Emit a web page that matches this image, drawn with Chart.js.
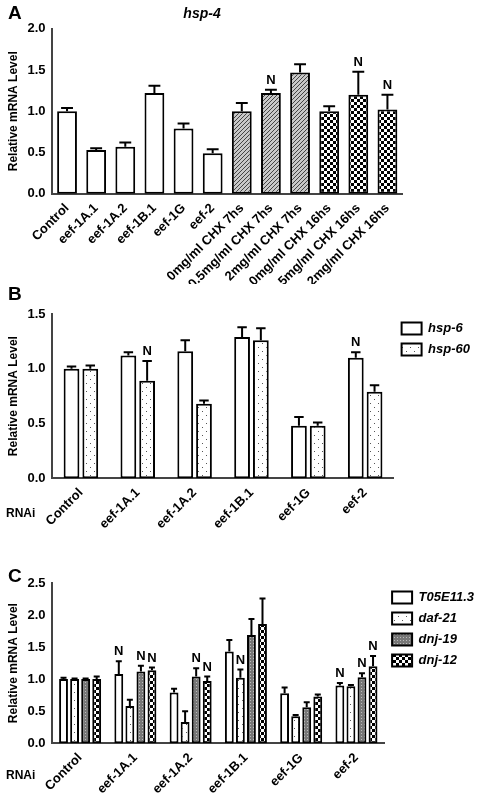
<!DOCTYPE html>
<html>
<head>
<meta charset="utf-8">
<script src="https://cdn.jsdelivr.net/npm/chart.js@4"></script>
<style>
  body { margin: 0; background: #fff; font-family: "Liberation Sans", Arial, sans-serif; }
  .box { position: absolute; left: 0; width: 486px; }
  .letter { position: absolute; font-weight: bold; font-size: 19px; }
  .rnai { position: absolute; font-weight: bold; font-size: 12px; }
</style>
</head>
<body>
<div style="position:absolute;left:0;top:0;width:486px;height:284px;overflow:hidden">
  <div class="box" style="top:0;height:300px"><canvas id="grafA"></canvas></div>
</div>
<div class="box" style="top:290px;height:245px"><canvas id="grafB"></canvas></div>
<div class="box" style="top:555px;height:245px"><canvas id="grafC"></canvas></div>
<div class="letter" style="left:8px;top:2px">A</div>
<div class="letter" style="left:8px;top:283px">B</div>
<div class="letter" style="left:8px;top:565px">C</div>
<div class="rnai" style="left:6px;top:506px">RNAi</div>
<div class="rnai" style="left:6px;top:768px">RNAi</div>
<script>
// Painel A: hsp-4
const rotulosA = ['Control', 'eef-1A.1', 'eef-1A.2', 'eef-1B.1', 'eef-1G', 'eef-2',
  '0mg/ml CHX 7hs', '0.5mg/ml CHX 7hs', '2mg/ml CHX 7hs',
  '0mg/ml CHX 16hs', '0.5mg/ml CHX 16hs', '2mg/ml CHX 16hs'];
const valoresA = [1.0, 0.53, 0.57, 1.22, 0.79, 0.49, 1.0, 1.22, 1.47, 1.0, 1.2, 1.02];
const errosA = [0.04, 0.02, 0.05, 0.09, 0.06, 0.05, 0.1, 0.04, 0.1, 0.06, 0.28, 0.18];
const marcasA = [0, 0, 0, 0, 0, 0, 0, 1, 0, 0, 1, 1];

// Painéis B e C: RNAi
const rotulosRNAi = ['Control', 'eef-1A.1', 'eef-1A.2', 'eef-1B.1', 'eef-1G', 'eef-2'];
const hsp6 = [1.0, 1.12, 1.16, 1.29, 0.48, 1.1];
const hsp6Erro = [0.02, 0.03, 0.1, 0.09, 0.08, 0.05];
const hsp6N = [0, 0, 0, 0, 0, 1];
const hsp60 = [1.0, 0.89, 0.68, 1.26, 0.48, 0.79];
const hsp60Erro = [0.03, 0.18, 0.03, 0.11, 0.03, 0.06];
const hsp60N = [0, 1, 0, 0, 0, 0];

const t05 = [1.0, 1.08, 0.79, 1.43, 0.78, 0.9];
const t05Erro = [0.02, 0.2, 0.06, 0.18, 0.09, 0.04];
const t05N = [0, 1, 0, 0, 0, 1];
const daf21 = [1.0, 0.58, 0.33, 1.02, 0.42, 0.89];
const daf21Erro = [0.01, 0.1, 0.17, 0.13, 0.02, 0.02];
const daf21N = [0, 0, 0, 1, 0, 0];
const dnj19 = [1.0, 1.12, 1.04, 1.69, 0.56, 1.03];
const dnj19Erro = [0.01, 0.09, 0.13, 0.25, 0.08, 0.06];
const dnj19N = [0, 1, 1, 0, 0, 1];
const dnj12 = [1.0, 1.14, 0.97, 1.86, 0.73, 1.2];
const dnj12Erro = [0.04, 0.04, 0.07, 0.4, 0.03, 0.16];
const dnj12N = [0, 1, 1, 0, 0, 1];

// Padrões de preenchimento
function padrao(tam, desenha) {
  const c = document.createElement('canvas');
  c.width = tam; c.height = tam;
  const g = c.getContext('2d');
  g.fillStyle = '#fff'; g.fillRect(0, 0, tam, tam);
  desenha(g);
  return document.createElement('canvas').getContext('2d').createPattern(c, 'repeat');
}
const listrado = padrao(4, g => {
  g.fillStyle = '#c8c8c8'; g.fillRect(0, 0, 4, 4);
  g.strokeStyle = '#444'; g.lineWidth = 1;
  g.beginPath(); g.moveTo(0, 4); g.lineTo(4, 0); g.stroke();
});
const xadrez = padrao(6, g => {
  g.fillStyle = '#000'; g.fillRect(0, 0, 3, 3); g.fillRect(3, 3, 3, 3);
});
const pontilhado = padrao(8, g => {
  g.fillStyle = '#555'; g.fillRect(2, 1, 1, 1); g.fillRect(6, 5, 1, 1);
});
const grade = padrao(3, g => {
  g.fillStyle = '#777'; g.fillRect(0, 0, 3, 3);
  g.fillStyle = '#bbb'; g.fillRect(1, 1, 1, 1);
});

// Plugin: barras de erro e marcas "N"
const erroPlugin = {
  id: 'erros',
  afterDatasetsDraw(chart) {
    const ctx = chart.ctx, y = chart.scales.y;
    chart.data.datasets.forEach((ds, i) => {
      const meta = chart.getDatasetMeta(i);
      meta.data.forEach((bar, j) => {
        const topo = y.getPixelForValue(ds.data[j] + ds.erros[j]);
        const meia = Math.max(3, bar.width * 0.3);
        ctx.save();
        ctx.strokeStyle = '#000'; ctx.lineWidth = 2;
        ctx.beginPath();
        ctx.moveTo(bar.x, bar.y); ctx.lineTo(bar.x, topo);
        ctx.moveTo(bar.x - meia, topo); ctx.lineTo(bar.x + meia, topo);
        ctx.stroke();
        if (ds.marcas[j]) {
          ctx.fillStyle = '#000'; ctx.font = 'bold 13px "Liberation Sans", Arial';
          ctx.textAlign = 'center'; ctx.textBaseline = 'bottom';
          ctx.fillText('N', bar.x, topo - 3);
        }
        ctx.restore();
      });
    });
  }
};

const fonteTick = { family: '"Liberation Sans", Arial', weight: 'bold', size: 12 };
const fonteX = { family: '"Liberation Sans", Arial', weight: 'bold', size: 13 };

function eixos(max, passo) {
  return {
    x: {
      grid: { display: false, drawTicks: true, tickLength: 4, color: '#000' },
      border: { color: '#444', width: 2 },
      ticks: { color: '#000', font: fonteX, maxRotation: 45, minRotation: 45, autoSkip: false }
    },
    y: {
      min: 0, max: max,
      grid: { display: false, drawTicks: true, tickLength: 4, color: '#000' },
      border: { color: '#444', width: 2 },
      ticks: { color: '#000', font: fonteX, stepSize: passo, callback: v => v.toFixed(1) },
      title: { display: true, text: 'Relative mRNA Level', color: '#000', font: fonteTick }
    }
  };
}

function legenda() {
  return {
    position: 'right', align: 'start',
    labels: { color: '#000', boxWidth: 20, boxHeight: 12, padding: 8,
      font: { family: '"Liberation Sans", Arial', weight: 'bold', style: 'italic', size: 13 } }
  };
}

function serie(rotulo, dados, erros, marcas, fundo) {
  return { label: rotulo, data: dados, erros: erros, marcas: marcas,
    backgroundColor: fundo, borderColor: '#000', borderWidth: 2, borderSkipped: false };
}

// Gráfico A
const fundosA = rotulosA.map((r, i) => i < 6 ? '#fff' : (i < 9 ? listrado : xadrez));
new Chart(document.getElementById('grafA'), {
  type: 'bar',
  data: { labels: rotulosA, datasets: [serie('hsp-4', valoresA, errosA, marcasA, fundosA)] },
  options: {
    maintainAspectRatio: false, animation: false,
    layout: { padding: { left: 2, right: 84, top: 6 } },
    datasets: { bar: { categoryPercentage: 1, barPercentage: 0.68 } },
    scales: eixos(2.0, 0.5),
    plugins: {
      legend: { display: false },
      title: { display: true, text: 'hsp-4', color: '#000', padding: { bottom: 6 },
        font: { family: '"Liberation Sans", Arial', style: 'italic', size: 14 } },
      tooltip: { enabled: false }
    }
  },
  plugins: [erroPlugin]
});

// Gráfico B
new Chart(document.getElementById('grafB'), {
  type: 'bar',
  data: { labels: rotulosRNAi, datasets: [
    serie('hsp-6', hsp6, hsp6Erro, hsp6N, '#fff'),
    serie('hsp-60', hsp60, hsp60Erro, hsp60N, pontilhado)
  ] },
  options: {
    maintainAspectRatio: false, animation: false,
    layout: { padding: { left: 2, top: 24, right: 6 } },
    datasets: { bar: { categoryPercentage: 0.66, barPercentage: 0.84 } },
    scales: eixos(1.5, 0.5),
    plugins: { legend: legenda(), tooltip: { enabled: false } }
  },
  plugins: [erroPlugin]
});

// Gráfico C
new Chart(document.getElementById('grafC'), {
  type: 'bar',
  data: { labels: rotulosRNAi, datasets: [
    serie('T05E11.3', t05, t05Erro, t05N, '#fff'),
    serie('daf-21', daf21, daf21Erro, daf21N, pontilhado),
    serie('dnj-19', dnj19, dnj19Erro, dnj19N, grade),
    serie('dnj-12', dnj12, dnj12Erro, dnj12N, xadrez)
  ] },
  options: {
    maintainAspectRatio: false, animation: false,
    layout: { padding: { left: 2, top: 28, right: 2 } },
    datasets: { bar: { categoryPercentage: 0.8, barPercentage: 0.8 } },
    scales: eixos(2.5, 0.5),
    plugins: { legend: legenda(), tooltip: { enabled: false } }
  },
  plugins: [erroPlugin]
});
</script>
</body>
</html>
